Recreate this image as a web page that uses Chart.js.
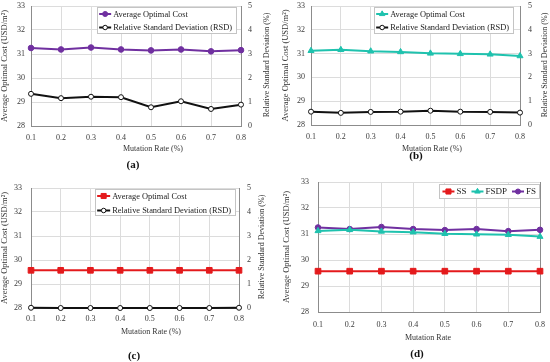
<!DOCTYPE html>
<html><head><meta charset="utf-8">
<script src="https://cdn.jsdelivr.net/npm/chart.js@4.4.0/dist/chart.umd.min.js"></script>
<style>
html,body{margin:0;padding:0;background:#fff;width:550px;height:362px;overflow:hidden;position:relative;font-family:"Liberation Serif",serif;}
canvas{position:absolute;}
.t{position:absolute;width:200px;height:10px;line-height:10px;text-align:center;white-space:nowrap;color:#333;font-size:8px;will-change:transform;}
.r{position:absolute;width:140px;height:10px;line-height:10px;text-align:center;white-space:nowrap;color:#333;font-size:8px;transform:rotate(-90deg);}
.cap{position:absolute;width:40px;height:14px;line-height:14px;text-align:center;font-weight:bold;font-size:11px;color:#111;will-change:transform;}
</style></head><body>
<canvas id="ca" width="275" height="145" style="left:0;top:0"></canvas>
<canvas id="cb" width="275" height="145" style="left:275px;top:0"></canvas>
<canvas id="cc" width="275" height="145" style="left:0;top:180px"></canvas>
<canvas id="cd" width="275" height="155" style="left:275px;top:176px"></canvas>
<div class="t" style="left:53px;top:144px">Mutation Rate (%)</div>
<div class="t" style="left:332px;top:144px">Mutation Rate (%)</div>
<div class="t" style="left:51px;top:327px">Mutation Rate (%)</div>
<div class="t" style="left:328px;top:333px">Mutation Rate</div>
<div class="r" style="left:197px;top:60px">Relative Standard Deviation (%)</div>
<div class="r" style="left:475px;top:60px">Relative Standard Deviation (%)</div>
<div class="r" style="left:192px;top:242px">Relative Standard Deviation (%)</div>
<div class="cap" style="left:113px;top:157px">(a)</div>
<div class="cap" style="left:396px;top:148px">(b)</div>
<div class="cap" style="left:114px;top:348px">(c)</div>
<div class="cap" style="left:397px;top:346px">(d)</div>
<script>
// ---- data ----
const mutationRates = ['0.1','0.2','0.3','0.4','0.5','0.6','0.7','0.8'];
const costFS   = [31.25, 31.19, 31.27, 31.19, 31.15, 31.19, 31.11, 31.16];
const rsdFS    = [1.34, 1.16, 1.22, 1.20, 0.78, 1.03, 0.71, 0.89];
const costFSDP = [31.12, 31.16, 31.10, 31.07, 31.01, 30.99, 30.97, 30.90];
const rsdFSDP  = [0.56, 0.51, 0.55, 0.56, 0.60, 0.56, 0.55, 0.52];
const costSS   = [29.57, 29.57, 29.57, 29.57, 29.57, 29.57, 29.57, 29.57];
const rsdSS    = [0.01, 0, 0, 0, 0, 0, 0, 0.01];
const leftTicks = [28, 29, 30, 31, 32, 33];
const rightTicks = [0, 1, 2, 3, 4, 5];

const PURPLE = '#7030A0', TEAL = '#1FC2AE', RED = '#E41A1C', BLACK = '#111';
const GRID = '#dcdcdc', AXIS = '#8c8c8c', TICK = '#3a3a3a';
const FONT = '"Liberation Serif", serif';
Chart.defaults.font.family = FONT;
Chart.defaults.font.size = 8;
Chart.defaults.color = TICK;

const boxLegend = {
  id: 'boxLegend',
  afterDraw(chart, args, opts) {
    if (!opts || !opts.mode) return;
    const ctx = chart.ctx, ca = chart.chartArea;
    const dss = chart.data.datasets;
    const S = opts.sample, G = 2;
    ctx.save();
    ctx.font = opts.fontSize + 'px ' + FONT;
    const widths = dss.map(d => ctx.measureText(d.label).width);
    let bx, by, bw, bh = opts.h;
    if (opts.mode === 'col') {
      bw = 2 + S + G + Math.max(...widths) + 5;
    } else {
      bw = 3 + widths.reduce((a, w) => a + S + G + w, 0) + opts.gap * (dss.length - 1) + 4;
    }
    bx = ca.right - opts.inset - bw; by = ca.top + opts.top;
    ctx.fillStyle = '#fff'; ctx.fillRect(bx, by, bw, bh);
    ctx.strokeStyle = '#c4c4c4'; ctx.lineWidth = 1;
    ctx.strokeRect(Math.round(bx) + 0.5, Math.round(by) + 0.5, Math.round(bw) - 1, Math.round(bh) - 1);
    let cx = bx + 3;
    dss.forEach((d, i) => {
      let sx, y;
      if (opts.mode === 'col') { sx = bx + 2; y = by + opts.rows[i]; }
      else { sx = cx; y = by + bh / 2; }
      ctx.strokeStyle = d.borderColor; ctx.lineWidth = d.borderWidth;
      ctx.beginPath(); ctx.moveTo(sx, y); ctx.lineTo(sx + S, y); ctx.stroke();
      ctx.fillStyle = d.pointBackgroundColor; ctx.strokeStyle = d.pointBorderColor;
      ctx.lineWidth = d.pointBorderWidth;
      Chart.helpers.drawPoint(ctx, {pointStyle: d.pointStyle, radius: d.pointRadius * 0.9, borderWidth: d.pointBorderWidth, rotation: 0}, sx + S / 2, y);
      ctx.fillStyle = '#222'; ctx.textAlign = 'left'; ctx.textBaseline = 'middle';
      ctx.fillText(d.label, sx + S + G, y + 0.5);
      cx = sx + S + G + widths[i] + opts.gap;
    });
    ctx.restore();
  }
};

function ds(label, data, color, style, radius, fill, axis) {
  return {label, data, yAxisID: axis, borderColor: color, borderWidth: 2, tension: 0,
    pointStyle: style, pointRadius: radius, pointHoverRadius: radius,
    pointBackgroundColor: fill, pointBorderColor: color, pointBorderWidth: 1, clip: false};
}

function panel(id, datasets, o) {
  const scales = {
    x: { type: 'category', offset: false,
      grid: { color: o.xGridColor || GRID, drawTicks: false },
      border: { color: AXIS },
      ticks: { padding: o.xPad, maxRotation: 0, autoSkip: false, font: {size: 8} },
      afterFit: s => { s.height = o.xH; s.paddingLeft = 0; s.paddingRight = 0; } },
    y: { position: 'left', min: 28, max: 33,
      afterBuildTicks: s => { s.ticks = leftTicks.map(v => ({value: v})); },
      grid: { color: GRID, drawTicks: false }, border: { color: AXIS },
      ticks: { padding: o.lPad, font: {size: 8} },
      title: { display: true, text: 'Average Optimal Cost (USD/m²)', font: {size: 8.5}, color: '#333',
        padding: {top: o.lTitlePad, bottom: 0} },
      afterFit: s => { s.width = o.lW; s.paddingTop = 0; s.paddingBottom = 0; } }
  };
  if (o.rW) {
    scales.y1 = { position: 'right', min: 0, max: 5,
      afterBuildTicks: s => { s.ticks = rightTicks.map(v => ({value: v})); },
      grid: { display: false, drawTicks: false }, border: { color: AXIS },
      ticks: { padding: o.rPad, font: {size: 8} },
      afterFit: s => { s.width = o.rW; s.paddingTop = 0; s.paddingBottom = 0; } };
  }
  return new Chart(document.getElementById(id), {
    type: 'line',
    data: { labels: mutationRates, datasets },
    options: {
      responsive: false, animation: false, devicePixelRatio: 1,
      layout: { padding: { top: o.top, right: o.padR || 0, left: 0, bottom: 0 } },
      plugins: { legend: { display: false }, tooltip: { enabled: false }, boxLegend: o.legend },
      scales
    },
    plugins: [boxLegend]
  });
}

panel('ca', [
  ds('Average Optimal Cost', costFS, PURPLE, 'circle', 2.8, PURPLE, 'y'),
  ds('Relative Standard Deviation (RSD)', rsdFS, BLACK, 'circle', 2.5, '#fff', 'y1')
], {top: 6, xH: 19, xPad: 7, lW: 31, lPad: 6, lTitlePad: 0, rW: 34, rPad: 7,
   legend: {mode: 'col', inset: 4, top: 1, h: 27, rows: [7, 20.5], sample: 12, fontSize: 8.4}});

panel('cb', [
  ds('Average Optimal Cost', costFSDP, TEAL, 'triangle', 3.5, TEAL, 'y'),
  ds('Relative Standard Deviation (RSD)', rsdFSDP, BLACK, 'circle', 2.5, '#fff', 'y1')
], {top: 6, xH: 20, xPad: 7, lW: 36, lPad: 6, lTitlePad: 6, rW: 30, rPad: 8,
   legend: {mode: 'col', inset: 6, top: 1, h: 27, rows: [7, 20.5], sample: 12, fontSize: 8.4}});

panel('cc', [
  ds('Average Optimal Cost', costSS, RED, 'rect', 4, RED, 'y'),
  ds('Relative Standard Deviation (RSD)', rsdSS, BLACK, 'circle', 2.5, '#fff', 'y1')
], {top: 8, xH: 17, xPad: 6, lW: 31, lPad: 9, lTitlePad: 0, rW: 36, rPad: 8,
   legend: {mode: 'col', inset: 3, top: 1, h: 27, rows: [7, 21.5], sample: 13, fontSize: 8.4}});

panel('cd', [
  ds('SS', costSS, RED, 'rect', 4, RED, 'y'),
  ds('FSDP', costFSDP, TEAL, 'triangle', 3.5, TEAL, 'y'),
  ds('FS', costFS, PURPLE, 'circle', 2.8, PURPLE, 'y')
], {top: 6, xH: 19, xPad: 8, lW: 43, lPad: 9, lTitlePad: 6.5, padR: 10,
   xGridColor: c => c.index === 7 ? AXIS : GRID,
   legend: {mode: 'row', inset: 0, top: 2, h: 15, gap: 5, sample: 12, fontSize: 9}});
</script>
</body></html>
